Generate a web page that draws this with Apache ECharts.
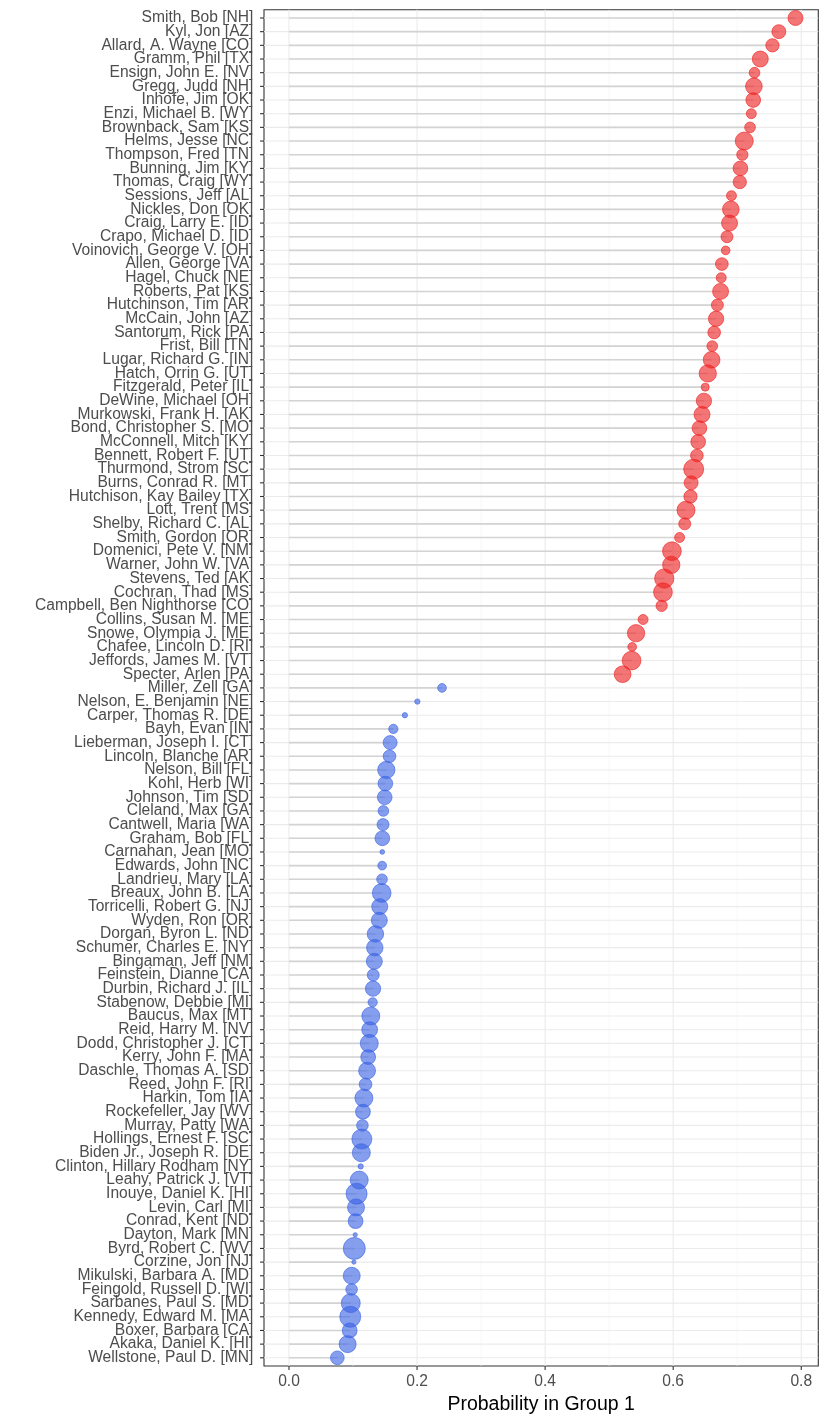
<!DOCTYPE html>
<html><head><meta charset="utf-8">
<script src="https://cdn.jsdelivr.net/npm/echarts@6/dist/echarts.min.js"></script>
<style>html,body{margin:0;padding:0;background:#fff}#c{width:830px;height:1423px}</style>
</head><body><div id="c"></div>
<script>
const senators = [
"Smith, Bob [NH]","Kyl, Jon [AZ]","Allard, A. Wayne [CO]","Gramm, Phil [TX]","Ensign, John E. [NV]",
"Gregg, Judd [NH]","Inhofe, Jim [OK]","Enzi, Michael B. [WY]","Brownback, Sam [KS]","Helms, Jesse [NC]",
"Thompson, Fred [TN]","Bunning, Jim [KY]","Thomas, Craig [WY]","Sessions, Jeff [AL]","Nickles, Don [OK]",
"Craig, Larry E. [ID]","Crapo, Michael D. [ID]","Voinovich, George V. [OH]","Allen, George [VA]","Hagel, Chuck [NE]",
"Roberts, Pat [KS]","Hutchinson, Tim [AR]","McCain, John [AZ]","Santorum, Rick [PA]","Frist, Bill [TN]",
"Lugar, Richard G. [IN]","Hatch, Orrin G. [UT]","Fitzgerald, Peter [IL]","DeWine, Michael [OH]","Murkowski, Frank H. [AK]",
"Bond, Christopher S. [MO]","McConnell, Mitch [KY]","Bennett, Robert F. [UT]","Thurmond, Strom [SC]","Burns, Conrad R. [MT]",
"Hutchison, Kay Bailey [TX]","Lott, Trent [MS]","Shelby, Richard C. [AL]","Smith, Gordon [OR]","Domenici, Pete V. [NM]",
"Warner, John W. [VA]","Stevens, Ted [AK]","Cochran, Thad [MS]","Campbell, Ben Nighthorse [CO]","Collins, Susan M. [ME]",
"Snowe, Olympia J. [ME]","Chafee, Lincoln D. [RI]","Jeffords, James M. [VT]","Specter, Arlen [PA]","Miller, Zell [GA]",
"Nelson, E. Benjamin [NE]","Carper, Thomas R. [DE]","Bayh, Evan [IN]","Lieberman, Joseph I. [CT]","Lincoln, Blanche [AR]",
"Nelson, Bill [FL]","Kohl, Herb [WI]","Johnson, Tim [SD]","Cleland, Max [GA]","Cantwell, Maria [WA]",
"Graham, Bob [FL]","Carnahan, Jean [MO]","Edwards, John [NC]","Landrieu, Mary [LA]","Breaux, John B. [LA]",
"Torricelli, Robert G. [NJ]","Wyden, Ron [OR]","Dorgan, Byron L. [ND]","Schumer, Charles E. [NY]","Bingaman, Jeff [NM]",
"Feinstein, Dianne [CA]","Durbin, Richard J. [IL]","Stabenow, Debbie [MI]","Baucus, Max [MT]","Reid, Harry M. [NV]",
"Dodd, Christopher J. [CT]","Kerry, John F. [MA]","Daschle, Thomas A. [SD]","Reed, John F. [RI]","Harkin, Tom [IA]",
"Rockefeller, Jay [WV]","Murray, Patty [WA]","Hollings, Ernest F. [SC]","Biden Jr., Joseph R. [DE]","Clinton, Hillary Rodham [NY]",
"Leahy, Patrick J. [VT]","Inouye, Daniel K. [HI]","Levin, Carl [MI]","Conrad, Kent [ND]","Dayton, Mark [MN]",
"Byrd, Robert C. [WV]","Corzine, Jon [NJ]","Mikulski, Barbara A. [MD]","Feingold, Russell D. [WI]","Sarbanes, Paul S. [MD]",
"Kennedy, Edward M. [MA]","Boxer, Barbara [CA]","Akaka, Daniel K. [HI]","Wellstone, Paul D. [MN]"
];

const prob = [
0.791,0.765,0.755,0.736,0.727,0.726,0.725,0.722,0.720,0.711,
0.708,0.705,0.704,0.691,0.690,0.688,0.684,0.682,0.676,0.675,
0.674,0.669,0.667,0.664,0.661,0.660,0.654,0.650,0.648,0.645,
0.641,0.639,0.637,0.632,0.628,0.627,0.620,0.618,0.610,0.598,
0.597,0.586,0.584,0.582,0.553,0.542,0.536,0.535,0.521,0.239,
0.2005,0.181,0.163,0.158,0.157,0.152,0.1505,0.1495,0.1474,0.1469,
0.1458,0.1457,0.1455,0.1453,0.1448,0.1417,0.1411,0.1350,0.1340,0.1333,
0.1316,0.1313,0.1307,0.1278,0.1260,0.1254,0.1237,0.1220,0.1196,0.1170,
0.1155,0.1147,0.1138,0.1130,0.1120,0.1097,0.1056,0.1047,0.1040,0.1035,
0.1020,0.1014,0.0980,0.0978,0.0965,0.0957,0.0948,0.0916,0.0755
];

const party = senators.map((s, i) => i < 49 ? "R" : "D");

// relative weight of each senator (area-proportional)
const weight = [
2.25,1.96,1.77,2.56,1.14,2.79,2.16,1.00,1.14,3.24,
1.28,2.16,1.77,1.00,2.79,2.56,1.44,0.76,1.61,1.00,
2.56,1.44,2.34,1.61,1.14,2.79,2.99,0.64,2.34,2.56,
2.16,2.16,1.61,4.00,1.96,1.77,3.24,1.44,1.00,3.50,
2.99,3.72,3.50,1.28,1.00,2.99,0.76,3.50,2.79,0.76,
0.28,0.28,0.86,1.96,1.61,2.99,2.16,2.16,1.14,1.44,
2.16,0.22,0.76,1.14,3.50,2.56,2.56,2.72,2.72,2.56,
1.44,2.34,0.86,3.24,2.50,3.24,2.19,2.86,1.61,3.24,
2.19,1.35,4.00,3.24,0.28,3.24,4.41,2.89,2.19,0.18,
4.84,0.18,2.89,1.35,3.61,4.41,2.19,2.89,1.88
];

const xTicks = [0, 0.2, 0.4, 0.6, 0.8];
const xTickLabels = ["0.0", "0.2", "0.4", "0.6", "0.8"];
const xMinorTicks = [0.1, 0.3, 0.5, 0.7];
const xTitle = "Probability in Group 1";

const X_MIN = -0.039, X_MAX = 0.8266;
const Y_MIN = -0.6, Y_MAX = senators.length - 1 + 0.6;
const idx = senators.map((s, i) => i);

const colors = { R: "rgba(238,34,34,0.78)", D: "rgba(60,100,228,0.78)" };
const FONT = "Liberation Sans, Arial, sans-serif";
const TICK_LEN = 4;

const chart = echarts.init(document.getElementById("c"), null, { renderer: "canvas" });

function lineItem(p1, p2, stroke, w) {
  return { type: "line", shape: { x1: p1[0], y1: p1[1], x2: p2[0], y2: p2[1] },
           style: { stroke: stroke, lineWidth: w } };
}

chart.setOption({
  animation: false,
  backgroundColor: "#ffffff",
  grid: { left: 264, right: 11.7, top: 9.8, bottom: 57, show: true,
          borderColor: "#333333", borderWidth: 1.1, backgroundColor: "transparent", containLabel: false },
  xAxis: {
    type: "value", min: X_MIN, max: X_MAX,
    splitLine: { show: false },
    axisLine: { show: false, onZero: false },
    axisTick: { show: false },
    axisLabel: { show: true, customValues: xTicks, margin: 8, fontSize: 15.6,
                 showMinLabel: true, showMaxLabel: true,
                 fontFamily: FONT, color: "#4D4D4D",
                 formatter: v => xTickLabels[xTicks.findIndex(t => Math.abs(t - v) < 1e-9)] },
    name: xTitle, nameLocation: "middle", nameGap: 27,
    nameTextStyle: { fontSize: 19.5, fontFamily: FONT, color: "#000000" }
  },
  yAxis: {
    type: "value", inverse: true, min: Y_MIN, max: Y_MAX,
    splitLine: { show: false },
    axisLine: { show: false, onZero: false },
    axisTick: { show: false },
    axisLabel: { show: true, customValues: [Y_MIN].concat(idx, [Y_MAX]), margin: 10.6, fontSize: 15.6,
                 hideOverlap: false,
                 fontFamily: FONT, color: "#4D4D4D",
                 formatter: v => (Math.abs(v - Math.round(v)) < 1e-9 ? senators[Math.round(v)] : " ") }
  },
  series: [
    { // vertical grid lines (major + minor)
      type: "custom", z: 1, silent: true,
      data: xTicks.map(v => [v, 1]).concat(xMinorTicks.map(v => [v, 0])),
      renderItem: (params, api) => {
        const v = api.value(0), major = api.value(1) === 1;
        return lineItem(api.coord([v, Y_MIN]), api.coord([v, Y_MAX]), major ? "#EBEBEB" : "#F2F2F2", major ? 1.1 : 0.6);
      }
    },
    { // horizontal grid lines (one per senator)
      type: "custom", z: 1, silent: true,
      data: idx.map(i => [i]),
      renderItem: (params, api) => {
        const i = api.value(0);
        return lineItem(api.coord([X_MIN, i]), api.coord([X_MAX, i]), "#EBEBEB", 1.1);
      }
    },
    { // y-axis ticks
      type: "custom", z: 5, silent: true, clip: false,
      data: idx.map(i => [i]),
      renderItem: (params, api) => {
        const p = api.coord([X_MIN, api.value(0)]);
        return lineItem([p[0] - TICK_LEN, p[1]], p, "#333333", 1.1);
      }
    },
    { // x-axis ticks
      type: "custom", z: 5, silent: true, clip: false,
      data: xTicks.map(v => [v]),
      renderItem: (params, api) => {
        const p = api.coord([api.value(0), Y_MAX]);
        return lineItem(p, [p[0], p[1] + TICK_LEN], "#333333", 1.1);
      }
    },
    { // segments from 0 to value
      type: "custom", z: 2, silent: true,
      data: prob.map((p, i) => [p, i]),
      renderItem: (params, api) => {
        const p = api.value(0), i = api.value(1);
        return lineItem(api.coord([0, i]), api.coord([p, i]), "#D3D3D3", 1.6);
      }
    },
    {
      type: "scatter", z: 3,
      data: prob.map((p, i) => ({ value: [p, i, weight[i]],
        itemStyle: { color: colors[party[i]], borderColor: colors[party[i]], borderWidth: 1 } })),
      symbol: "circle",
      symbolSize: v => 10 * Math.sqrt(v[2])
    }
  ]
});
</script>
</body></html>
